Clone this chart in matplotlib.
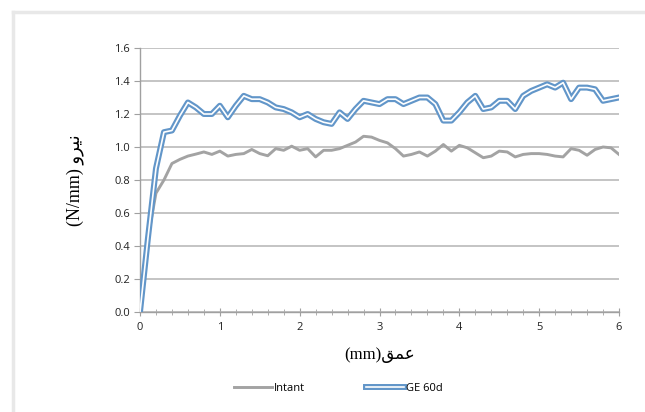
import matplotlib
matplotlib.use("Agg")
import matplotlib.pyplot as plt
import matplotlib.patheffects as pe
from matplotlib.lines import Line2D
from matplotlib.ticker import MultipleLocator, FormatStrFormatter

depth = [round(0.1 * i, 1) for i in range(61)]

intant = [0.00, 0.45, 0.72, 0.80, 0.90, 0.925, 0.945, 0.957, 0.97, 0.955,
          0.975, 0.945, 0.955, 0.96, 0.985, 0.96, 0.947, 0.99, 0.98, 1.005,
          0.98, 0.99, 0.94, 0.98, 0.98, 0.99, 1.01, 1.03, 1.065, 1.06,
          1.04, 1.025, 0.99, 0.945, 0.955, 0.97, 0.945, 0.975, 1.015, 0.975,
          1.01, 0.995, 0.965, 0.935, 0.945, 0.975, 0.97, 0.94, 0.955, 0.96,
          0.96, 0.955, 0.945, 0.94, 0.99, 0.98, 0.95, 0.985, 1.00, 0.995,
          0.955]

ge60d = [0.00, 0.45, 0.87, 1.09, 1.10, 1.19, 1.27, 1.24, 1.20, 1.20,
         1.25, 1.18, 1.25, 1.31, 1.29, 1.29, 1.27, 1.24, 1.23, 1.21,
         1.18, 1.20, 1.17, 1.15, 1.14, 1.21, 1.17, 1.23, 1.28, 1.27,
         1.26, 1.29, 1.29, 1.26, 1.28, 1.30, 1.30, 1.26, 1.16, 1.16,
         1.21, 1.27, 1.31, 1.23, 1.24, 1.28, 1.28, 1.23, 1.31, 1.34,
         1.36, 1.38, 1.36, 1.39, 1.29, 1.36, 1.36, 1.35, 1.28, 1.29,
         1.30]

series_names = ["Intant", "GE 60d"]
# Visual (pre-shaped, left-to-right) forms of the Persian labels
ylabel_text = "(N/mm) " + "\uFEED\uFEAE\uFEF4\uFEE7"   # (N/mm) نیرو
xlabel_text = "(mm)" + "\uFED6\uFEE4\uFECB"             # عمق(mm)

fig = plt.figure(figsize=(6.45, 4.12), dpi=100)
fig.patch.set_facecolor("white")
ax = fig.add_axes([140/645, 100/412, 479/645, 264/412])

gray = "#A3A3A3"
blue = "#6296C9"

ax.plot(depth, intant, color=gray, lw=2.1, label=series_names[0], zorder=3)
ax.plot(depth, ge60d, color="white", lw=1.2, label=series_names[1], zorder=4,
        path_effects=[pe.Stroke(linewidth=4.3, foreground=blue), pe.Normal()])

ax.set_xlim(0, 6)
ax.set_ylim(0, 1.6)
ax.xaxis.set_major_locator(MultipleLocator(1))
ax.xaxis.set_minor_locator(MultipleLocator(0.2))
ax.yaxis.set_major_locator(MultipleLocator(0.2))
ax.yaxis.set_major_formatter(FormatStrFormatter("%.1f"))

ax.grid(axis="y", color="#B4B4B4", lw=1.1)
ax.set_axisbelow(True)
for s in ["top", "right"]:
    ax.spines[s].set_visible(False)
for s in ["left", "bottom"]:
    ax.spines[s].set_color("#A0A0A0")
    ax.spines[s].set_linewidth(1.0)

ax.tick_params(axis="y", direction="out", length=4, color="#A0A0A0",
               labelsize=8, pad=3, labelcolor="#222222")
ax.tick_params(axis="x", which="major", direction="inout", length=6,
               color="#A0A0A0", labelsize=8, pad=4, labelcolor="#222222")
ax.tick_params(axis="x", which="minor", direction="inout", length=4,
               color="#A0A0A0")
for lab in ax.get_xticklabels() + ax.get_yticklabels():
    lab.set_fontfamily("Open Sans")

ax.set_xlabel(xlabel_text, family=["Liberation Serif", "DejaVu Sans"],
              fontsize=12, labelpad=10)
ax.set_ylabel(ylabel_text, family=["Liberation Serif", "DejaVu Sans"],
              fontsize=13, labelpad=22)

leg = fig.legend(loc="center", bbox_to_anchor=(0.525, 0.058), ncol=2,
                 frameon=False, prop={"family": "Open Sans", "size": 8},
                 handlelength=3.4, handletextpad=0.2, columnspacing=5.5)

# light chart-area border (top and left)
fig.add_artist(Line2D([13/645, 13/645], [0, 1 - 12/412], transform=fig.transFigure,
                      color="#E8E8E8", lw=2.5))
fig.add_artist(Line2D([13/645, 1], [1 - 12/412, 1 - 12/412], transform=fig.transFigure,
                      color="#E8E8E8", lw=2.5))

fig.savefig("out.png", dpi=100)
